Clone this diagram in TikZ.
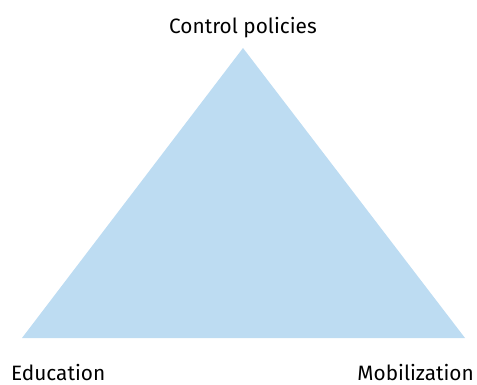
\documentclass[tikz,border=0pt]{standalone}
\usepackage{fontspec}
\setmainfont{Fira Sans}
\definecolor{triblue}{HTML}{BDDCF2}
\tikzset{lbl/.style={inner sep=0pt, font=\fontsize{20.8}{24}\selectfont, text=black}}
\begin{document}
\begin{tikzpicture}[x=1pt,y=-1pt]
\useasboundingbox (0,0) rectangle (477,385);
\coordinate (apex) at (243,48);
\coordinate (bl) at (22,338);
\coordinate (br) at (465,338);
\fill[triblue] (apex) -- (bl) -- (br) -- cycle;
\node[lbl, anchor=base] (top) at (243,34) {Control policies};
\node[lbl, anchor=base west] (left) at (11,380) {Education};
\node[lbl, anchor=base east] (right) at (474,380) {Mobilization};
\end{tikzpicture}
\end{document}
